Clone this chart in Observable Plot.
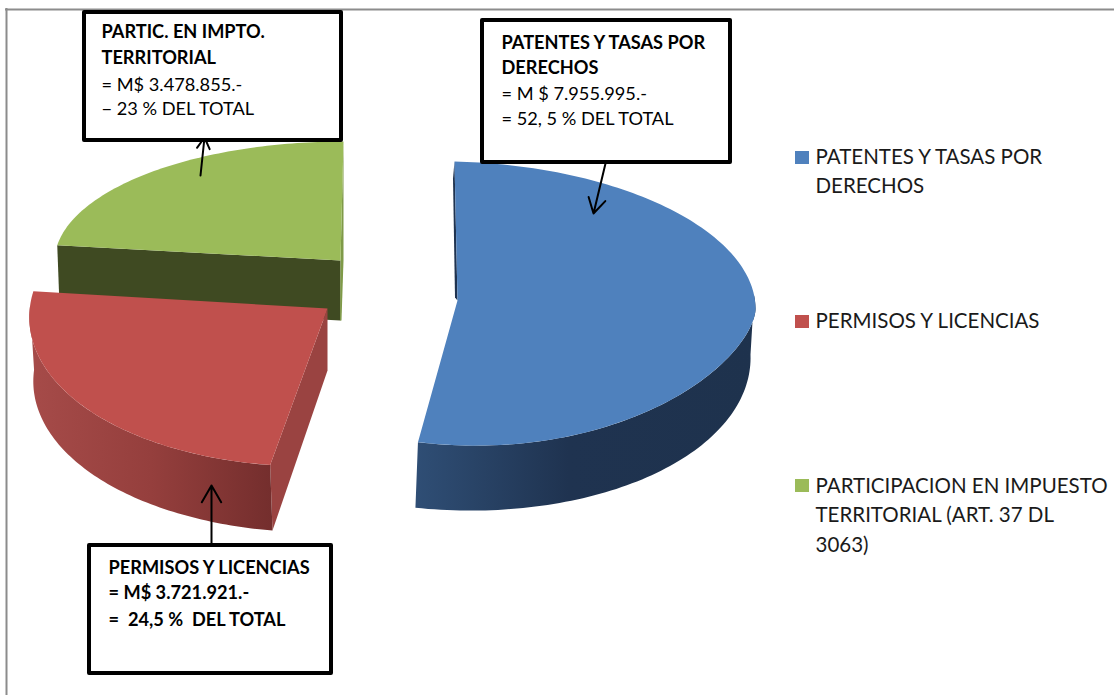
<!DOCTYPE html>
<html><head><meta charset="utf-8">
<script src="https://cdn.jsdelivr.net/npm/d3@7"></script>
<script src="https://cdn.jsdelivr.net/npm/@observablehq/plot@0.6"></script>
<style>html,body{margin:0;padding:0;background:#fff}svg{display:block}</style>
</head><body><div id="chart"></div>
<script>
// ---- data ----
const categories = ["PATENTES Y TASAS POR DERECHOS", "PERMISOS Y LICENCIAS", "PARTICIPACION EN IMPUESTO TERRITORIAL (ART. 37 DL 3063)"];
const values = [7955995, 3721921, 3478855];
const legendLines = [["PATENTES Y TASAS POR", "DERECHOS"], ["PERMISOS Y LICENCIAS"], ["PARTICIPACION EN IMPUESTO", "TERRITORIAL (ART. 37 DL", "3063)"]];
const calloutBlue = ["PATENTES Y TASAS POR", "DERECHOS", "= M $ 7.955.995.-", "= 52, 5 % DEL TOTAL"];
const calloutRed = ["PERMISOS Y LICENCIAS", "= M$ 3.721.921.-", "=  24,5 %  DEL TOTAL"];
const calloutGreen = ["PARTIC. EN IMPTO.", "TERRITORIAL", "= M$ 3.478.855.-", "\u2212 23 % DEL TOTAL"];
const colors = ["#4f81bd", "#c0504d", "#9bbb59"];

// ---- angles from the values ----
const total = d3.sum(values);
const ends = d3.cumsum(values).map(v => v / total * 2 * Math.PI);
const starts = [0, ends[0], ends[1]];

// ---- projected rim of a pie slice ----
const rim = (g, t) => {
  const c = Math.cos(t), s = Math.sin(t);
  const by = c >= 0 ? g.B[1] : (g.Bl ?? g.B[1]);
  const bx = c >= 0 ? g.B[0] : (g.Blx ?? g.B[0]);
  const cc = c < 0 && g.p ? -Math.pow(-c, g.p) : c;
  return {x: g.C[0] + g.A[0] * s + bx * c, y: g.C[1] + g.A[1] * s + by * cc};
};
const arc = (g, a, b, n = 80) => d3.range(n + 1).map(i => rim(g, a + (b - a) * i / n));
const P = (x, y) => ({x, y});

const blueTop = {C: [457, 300], A: [298, 7], B: [-3, -139], Blx: -7, Bl: -145, p: 1.28};
const blueLow = {C: [455, 349], A: [295, 5], B: [-6, -161]};
const redTop = {C: [327, 308], A: [298, -3], B: [11, -158]};
const redLow = {C: [329, 375], A: [296, 0], B: [11, -157]};
const greenTop = {C: [340, 260], A: [286, 0], B: [3, -119]};

const shape = (pts, fill) => Plot.line(pts, {x: "x", y: "y", fill, stroke: "none"});
const rad = d => d * Math.PI / 180;

const blueFace = [P(...blueTop.C), ...arc(blueTop, starts[0], ends[0], 160)];
const blueSide = [...arc(blueTop, rad(85), ends[0]), ...arc(blueLow, ends[0], rad(90))];
const blueInner = [rim(blueTop, 0), P(452.5, 178), P(454.5, 297), P(...blueTop.C)];

const redFace = [P(...redTop.C), ...arc(redTop, starts[1], ends[1])];
const redSide = [...arc(redTop, starts[1], rad(272)), ...arc(redLow, rad(272), starts[1])];
const redCut = [P(...redTop.C), rim(redTop, starts[1]), rim(redLow, starts[1]), P(327, 370)];

const greenFace = [P(...greenTop.C), ...arc(greenTop, starts[2], ends[2])];
const greenCut = [rim(greenTop, starts[2]), P(59, 305), P(340, 320), P(...greenTop.C)];
const greenInner = [rim(greenTop, 0), P(343, 260), P(341, 320), P(339.5, 320), P(...greenTop.C)];

const defs = () => {
  const svg = d3.create("svg:defs");
  const grad = (id, stops) => {
    const g = svg.append("linearGradient").attr("id", id);
    stops.forEach(([o, c]) => g.append("stop").attr("offset", o).attr("stop-color", c));
  };
  grad("sideBlue", [[0, "#2f4e75"], [0.45, "#1f3350"], [1, "#1e324d"]]);
  grad("sideRed", [[0, "#a64b49"], [0.5, "#953f3d"], [1, "#742e2d"]]);
  return svg.node();
};

// ---- callouts ----
const box = (x1, y1, x2, y2) => Plot.rect([{x1, y1, x2, y2}], {x1: "x1", x2: "x2", y1: "y1", y2: "y2", fill: "white", stroke: "black", strokeWidth: 4, strokeLinejoin: "round"});
const lines = (arr, idx, x, ys, weight) => Plot.text(idx.map(i => ({t: arr[i], y: ys[i]})), {
  x: () => x, y: "y", text: "t", textAnchor: "start", lineAnchor: "bottom",
  fontFamily: "Lato", fontSize: 18.2, fontWeight: weight, fill: "#000"
});
const arrow = (x1, y1, x2, y2) => Plot.arrow([{x1, y1, x2, y2}], {x1: "x1", y1: "y1", x2: "x2", y2: "y2", bend: 0, stroke: "black", strokeWidth: 2, headLength: 18, headAngle: 60});

// ---- legend ----
const legendRows = [[163, 192], [327], [492, 521, 551]];
const swatchTop = [151, 315, 479];
const legendText = legendLines.flatMap((ls, i) => ls.map((t, j) => ({t, y: legendRows[i][j]})));

const chart = Plot.plot({
  width: 1114, height: 695, margin: 0,
  x: {domain: [0, 1114], range: [0, 1114], axis: null},
  y: {domain: [0, 695], range: [0, 695], axis: null},
  style: {background: "white"},
  marks: [
    defs,
    Plot.ruleY([9], {x1: 5, x2: 1114, stroke: "#8c8c8c", strokeWidth: 2}),
    Plot.ruleX([6], {y1: 8, y2: 695, stroke: "#8c8c8c", strokeWidth: 2}),

    shape(greenCut, "#3f4a22"),
    shape(greenInner, "#7f9a48"),
    shape(greenFace, colors[2]),

    shape(redCut, "#9a4341"),
    shape(redSide, "url(#sideRed)"),
    shape(redFace, colors[1]),

    shape(blueInner, "#1f3350"),
    shape(blueSide, "url(#sideBlue)"),
    shape(blueFace, colors[0]),

    arrow(200, 175, 204, 137),
    arrow(605, 163, 593, 213),
    arrow(211, 543, 211, 485),

    box(84, 12, 341, 140),
    lines(calloutGreen, [0, 1], 101, [37, 63], "bold"),
    lines(calloutGreen, [2, 3], 101, [0, 0, 90, 114], "normal"),

    box(482, 20, 730, 162),
    lines(calloutBlue, [0, 1], 501, [48, 73], "bold"),
    lines(calloutBlue, [2, 3], 501, [0, 0, 99, 124], "normal"),

    box(89, 545, 331, 673),
    lines(calloutRed, [0, 1, 2], 108, [573, 598, 625], "bold"),

    Plot.rect(colors, {
      x1: () => 795, x2: () => 809,
      y1: (d, i) => swatchTop[i], y2: (d, i) => swatchTop[i] + 13,
      fill: d => d
    }),
    Plot.text(legendText, {x: () => 815, y: "y", text: "t", textAnchor: "start", lineAnchor: "bottom", fontFamily: "Lato", fontSize: 20.5, fill: "#1a1a1a"})
  ]
});
document.getElementById("chart").append(chart);
</script>
</body></html>
